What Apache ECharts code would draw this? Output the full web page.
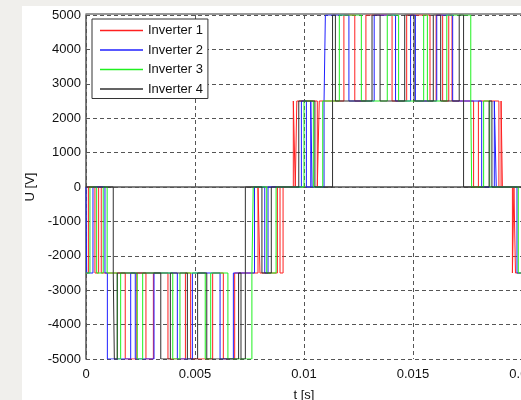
<!DOCTYPE html>
<html><head><meta charset="utf-8">
<script src="https://cdn.jsdelivr.net/npm/echarts@6/dist/echarts.min.js"></script>
<style>
html,body{margin:0;padding:0;width:521px;height:400px;overflow:hidden;background:#f0efec;}
#c{position:absolute;left:22px;top:6px;width:520px;height:394px;background:#fff;}
</style></head><body><div id="c"></div>
<script>
// Tick labels
const xTickValues = [0, 0.005, 0.01, 0.015, 0.02];
const xTickLabels = ['0', '0.005', '0.01', '0.015', '0.02'];
const yTickValues = [-5000, -4000, -3000, -2000, -1000, 0, 1000, 2000, 3000, 4000, 5000];
const yTickLabels = ['-5000', '-4000', '-3000', '-2000', '-1000', '0', '1000', '2000', '3000', '4000', '5000'];

const seriesNames = ['Inverter 1', 'Inverter 2', 'Inverter 3', 'Inverter 4'];

// [time s, voltage V] switching points (value holds until next point)
const inverter1 = [
  [0, -2500], [0.00011, 0], [0.00041, -2500], [0.00058, 0], [0.00070, -2500],
  [0.00180, -5000], [0.00233, -2500], [0.00275, -5000], [0.00309, -2500], [0.00376, -5000],
  [0.00456, -2500], [0.00480, -5000], [0.00581, -2500], [0.00630, -5000], [0.00682, -2500],
  [0.00789, 0], [0.00798, -2500], [0.00878, 0], [0.00890, -2500], [0.00904, 0],
  [0.00951, 2500], [0.00960, 0], [0.00967, 2500], [0.01061, 0], [0.01070, 2500],
  [0.01183, 5000], [0.01233, 2500], [0.01284, 5000], [0.01404, 2500], [0.01471, 5000],
  [0.01578, 2500], [0.01606, 5000], [0.01636, 2500], [0.01664, 5000], [0.01679, 2500],
  [0.01778, 0], [0.01800, 2500], [0.01894, 0], [0.01904, 2500], [0.01910, 0],
  [0.01956, -2500], [0.01963, 0], [0.01970, -2500], [0.02, -2500]
];
const inverter2 = [
  [0, 0], [0.00003, -2500], [0.00032, 0], [0.00087, -2500],
  [0.00098, -5000], [0.00205, -2500], [0.00226, -5000], [0.00312, -2500], [0.00419, -5000],
  [0.00488, -2500], [0.00615, -5000], [0.00676, -2500],
  [0.00773, 0], [0.00820, -2500], [0.00835, 0],
  [0.00988, 2500], [0.01011, 0], [0.01031, 2500], [0.01037, 0], [0.01092, 2500],
  [0.01098, 5000], [0.01206, 2500], [0.01322, 5000], [0.01420, 2500], [0.01489, 5000],
  [0.01511, 2500], [0.01609, 5000], [0.01682, 2500],
  [0.01815, 0], [0.01873, 2500], [0.01882, 0],
  [0.01977, -2500], [0.02, -2500]
];
const inverter3 = [
  [0, -2500], [0.00018, 0], [0.00049, -2500], [0.00079, 0], [0.00097, -2500],
  [0.00144, -5000], [0.00159, -2500], [0.00235, -5000], [0.00260, -2500], [0.00398, -5000],
  [0.00431, -2500], [0.00547, -5000], [0.00572, -2500], [0.00651, -5000], [0.00761, -2500],
  [0.00767, 0], [0.00829, -2500], [0.00872, 0],
  [0.01000, 2500], [0.01043, 0], [0.01086, 2500],
  [0.01162, 5000], [0.01263, 2500], [0.01382, 5000], [0.01434, 2500], [0.01549, 5000],
  [0.01566, 2500], [0.01655, 5000], [0.01765, 2500],
  [0.01769, 0], [0.01824, 2500], [0.01852, 0],
  [0.01983, -2500], [0.02, -2500]
];
const inverter4 = [
  [0, 0], [0.00125, -2500], [0.00130, -5000], [0.00143, -2500],
  [0.00343, -5000], [0.00387, -2500], [0.00465, -5000], [0.00512, -2500], [0.00554, -5000],
  [0.00700, -2500], [0.00711, -5000], [0.00731, 0],
  [0.00807, -2500], [0.00850, 0],
  [0.00976, 2500], [0.01050, 0], [0.01131, 5000],
  [0.01144, 2500], [0.01312, 5000], [0.01349, 2500], [0.01462, 5000], [0.01505, 2500],
  [0.01593, 5000], [0.01627, 2500], [0.01712, 5000], [0.01732, 0],
  [0.01849, 2500], [0.01862, 0], [0.02, 0]
];

const seriesData = [inverter1, inverter2, inverter3, inverter4];
const colors = ['#ff2020', '#2020ff', '#20f020', '#303030'];
const FONT = 'Liberation Sans, Arial, sans-serif';

const chart = echarts.init(document.getElementById('c'), null, {renderer: 'canvas'});
chart.setOption({
  animation: false,
  backgroundColor: '#ffffff',
  grid: {left: 64, right: 20, top: 9, bottom: 41, containLabel: false, outerBoundsMode: 'none'},
  legend: {
    orient: 'vertical', left: 70, top: 13,
    data: seriesNames,
    icon: 'rect', itemWidth: 43, itemHeight: 1.5, itemGap: 4.5,
    backgroundColor: '#ffffff', borderColor: '#333333', borderWidth: 1,
    padding: [4, 5, 2, 8],
    textStyle: {fontFamily: FONT, fontSize: 13, color: '#111', lineHeight: 15}
  },
  xAxis: [{
    type: 'value', min: 0, max: 0.02, interval: 0.005, position: 'bottom', offset: 2,
    name: 't [s]', nameLocation: 'middle', nameGap: 28,
    nameTextStyle: {fontFamily: FONT, fontSize: 13, color: '#111'},
    axisLine: {show: true, lineStyle: {color: '#555', width: 1.5}},
    axisTick: {show: true, inside: true, length: 4, lineStyle: {color: '#555'}},
    axisLabel: {fontFamily: FONT, fontSize: 13, color: '#111', margin: 7,
      formatter: v => { const i = xTickValues.findIndex(t => Math.abs(t - v) < 1e-9); return i >= 0 ? xTickLabels[i] : ''; }},
    splitLine: {show: true, lineStyle: {color: '#555', type: [4, 3], width: 1}}
  }, {
    type: 'value', min: 0, max: 0.02, interval: 0.005, position: 'top', offset: 1,
    axisLine: {show: true, lineStyle: {color: '#777', width: 1.5}},
    axisTick: {show: false}, axisLabel: {show: false}, splitLine: {show: false}
  }],
  yAxis: {
    type: 'value', min: -5000, max: 5000, interval: 1000,
    name: 'U [V]', nameLocation: 'middle', nameGap: 46, nameRotate: 90,
    nameTextStyle: {fontFamily: FONT, fontSize: 13, color: '#111'},
    axisLine: {show: true, lineStyle: {color: '#555', width: 1.5}},
    axisTick: {show: true, inside: true, length: 4, lineStyle: {color: '#555'}},
    axisLabel: {fontFamily: FONT, fontSize: 13, color: '#111', margin: 5,
      formatter: v => { const i = yTickValues.indexOf(Math.round(v)); return i >= 0 ? yTickLabels[i] : ''; }},
    splitLine: {show: true, lineStyle: {color: '#555', type: [4, 3], width: 1}}
  },
  series: seriesData.map((d, i) => ({
    name: seriesNames[i], type: 'line', step: 'end', data: d,
    xAxisIndex: 0, symbol: 'none', showSymbol: false,
    lineStyle: {color: colors[i], width: 1}, itemStyle: {color: colors[i]},
    emphasis: {disabled: true}, clip: true
  }))
});
</script></body></html>
